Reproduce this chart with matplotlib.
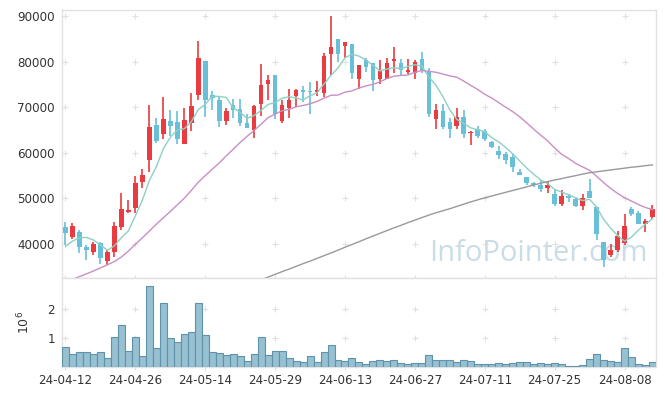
import numpy as np
import pandas as pd
import matplotlib
matplotlib.use("Agg")
import matplotlib.pyplot as plt
from matplotlib.ticker import FuncFormatter

# trading days (KRX holidays removed)
holidays = ["2024-05-01", "2024-05-06", "2024-05-15", "2024-06-06"]
dates = pd.bdate_range("2024-04-12", "2024-08-14", freq="C", holidays=holidays)

opens = [43700, 41600, 42700, 39350, 38300, 40150, 36150, 38300, 43600, 47000,
         47750, 53650, 58500, 66100, 64200, 66950, 66700, 62000, 66400, 72550,
         80150, 72700, 71600, 67050, 70400, 69600, 66450, 65050, 70750, 75150,
         77050, 67050, 69700, 72400, 73550, 73550, 73250, 73050, 81750, 84950,
         83500, 83850, 76200, 80400, 79700, 76200, 76200, 80200, 79600, 77700,
         77500, 80550, 77950, 67400, 69150, 66750, 65750, 67800, 64250, 65150,
         64800, 62300, 60400, 59800, 59100, 55800, 54600, 53400, 52950, 52200,
         50950, 48750, 50600, 49850, 48400, 51600, 48100, 40450, 37450, 38550,
         40150, 47600, 46800, 44450, 45900]
highs = [44800, 44500, 43050, 39800, 40350, 40300, 38550, 44800, 51200, 49600,
         54900, 56400, 70550, 67550, 72150, 69400, 69100, 69750, 73050, 84600,
         80150, 73550, 72300, 69900, 71700, 71700, 68450, 70500, 79400, 77000,
         77050, 71450, 74050, 74000, 74650, 75450, 75750, 81800, 90000, 84950,
         84350, 83850, 79300, 80700, 79700, 80350, 80850, 83200, 80500, 80500,
         80350, 82050, 78500, 70650, 70650, 67700, 69700, 69450, 64800, 65800,
         65150, 62650, 61500, 60250, 59750, 56400, 54750, 53500, 53900, 53650,
         52050, 51900, 50950, 50250, 50900, 54200, 48100, 40450, 39850, 42800,
         46500, 48100, 47250, 45400, 48550]
lows = [39800, 41000, 37950, 36350, 37450, 35600, 35300, 37200, 43050, 46700,
        46850, 52350, 55700, 62200, 63100, 63700, 61850, 61900, 64650, 71600,
        67800, 69400, 65600, 66000, 67500, 65750, 65350, 63250, 68050, 71450,
        67350, 66600, 67550, 70100, 71200, 68500, 72450, 72150, 77050, 80000,
        80700, 76100, 74000, 77800, 73500, 75100, 76100, 77550, 77000, 77200,
        76100, 77400, 67900, 65200, 65150, 63300, 65200, 63150, 61700, 63150,
        62650, 61000, 58650, 57600, 55650, 55000, 52800, 52400, 51350, 51250,
        48400, 48200, 49150, 48100, 47400, 49950, 40900, 34900, 37150, 38300,
        39700, 46000, 44300, 42550, 45350]
closes = [42300, 43950, 39200, 38750, 40000, 36800, 38250, 43950, 47700, 47450,
          53400, 55200, 65650, 62650, 67400, 65950, 63100, 67200, 70250, 80800,
          71650, 71950, 67050, 69150, 69400, 66600, 65450, 70200, 74800, 75950,
          68450, 70400, 71650, 73750, 73400, 73250, 73650, 81250, 83200, 81650,
          84300, 77550, 79250, 78900, 75950, 77950, 79700, 80550, 78100, 78150,
          80000, 78150, 68500, 69400, 65650, 65150, 67800, 64050, 64500, 63700,
          63050, 61150, 59500, 58300, 56800, 55200, 53300, 52800, 52000, 52800,
          48750, 50400, 49950, 48400, 50000, 50000, 42100, 36550, 38700, 41700,
          43950, 46450, 44450, 45050, 47600]
volumes = [686000, 446000, 514000, 514000, 446000, 514000, 309000, 1029000, 1440000, 560000,
           1029000, 377000, 2777000, 651000, 2194000, 994000, 857000, 1131000, 1200000, 2194000,
           1097000, 514000, 480000, 411000, 446000, 377000, 206000, 446000, 1029000, 411000,
           549000, 549000, 309000, 206000, 171000, 377000, 171000, 514000, 754000, 240000,
           206000, 309000, 171000, 103000, 206000, 240000, 206000, 240000, 137000, 103000,
           137000, 137000, 411000, 240000, 240000, 240000, 171000, 240000, 206000, 103000,
           103000, 103000, 137000, 103000, 137000, 171000, 171000, 103000, 137000, 103000,
           137000, 103000, 34000, 34000, 69000, 274000, 446000, 240000, 206000, 171000,
           651000, 343000, 103000, 69000, 171000]

# moving averages: first days need history before the window
ma5_head = [39400, 40600, 41300, 41400]
ma20_head = [31500, 32200, 32800, 33400, 34050, 34700, 35400, 36100, 37100, 38400,
             39900, 41300, 42800, 44300, 45700, 47100, 48550, 50000, 51700]
ma120_start = 26
ma120 = [30900, 31500, 32100, 32700, 33300, 33900, 34450, 35050, 35650, 36200,
         36800, 37400, 38000, 38600, 39250, 39850, 40450, 41100, 41700, 42300,
         42900, 43500, 44050, 44650, 45200, 45750, 46300, 46800, 47250, 47700,
         48200, 48700, 49200, 49650, 50100, 50500, 50900, 51300, 51700, 52100,
         52500, 52900, 53300, 53650, 54000, 54300, 54650, 54950, 55300, 55600,
         55800, 56000, 56200, 56400, 56600, 56800, 56950, 57150, 57300]

df = pd.DataFrame({"open": opens, "high": highs, "low": lows,
                   "close": closes, "volume": volumes}, index=dates[:len(closes)])
x = np.arange(len(df))

ma5 = df["close"].rolling(5).mean().values
ma5[:len(ma5_head)] = ma5_head
ma20 = df["close"].rolling(20).mean().values
ma20[:len(ma20_head)] = ma20_head
ma120_full = np.full(len(df), np.nan)
ma120_full[ma120_start:] = ma120

up_col = "#ea3b40"
down_col = "#68bfd8"
grid_col = "#e0e0e0"
text_col = "#333333"

fig = plt.figure(figsize=(6.65, 3.96), dpi=100)
ax1 = fig.add_axes([0.0932, 0.298, 0.8932, 0.6767])
ax2 = fig.add_axes([0.0932, 0.072, 0.8932, 0.226], sharex=ax1)

# candles
up = df["close"] >= df["open"]
colors = np.where(up, up_col, down_col)
ax1.vlines(x, df["low"], df["high"], colors=colors, linewidth=1.2, zorder=3)
body_bottom = np.minimum(df["open"], df["close"])
body_height = np.maximum((df["close"] - df["open"]).abs(), 250)
ax1.bar(x, body_height, bottom=body_bottom, width=0.66, color=colors, linewidth=0, zorder=4)

ax1.plot(x, ma5, color="#8fd0c5", linewidth=1.0, zorder=5)
ax1.plot(x, ma20, color="#c98fc6", linewidth=1.0, zorder=5)
ax1.plot(x, ma120_full, color="#999999", linewidth=1.0, zorder=5)

ax1.text(0.802, 0.09, "InfoPointer.com", transform=ax1.transAxes, ha="center", va="center",
         fontsize=21, family=["Open Sans", "DejaVu Sans"], color="#cadce6", zorder=1)

# volume
ax2.bar(x, df["volume"], width=1.0, color="#97c0d1", edgecolor="#5e93ab", linewidth=0.8, zorder=3)
ax2.yaxis.set_major_formatter(FuncFormatter(lambda v, p: f"{v / 1e6:g}"))
ax2.set_ylabel(r"$10^6$", color=text_col, fontsize=9)
ax2.yaxis.set_label_coords(-0.05, 0.5)

ax1.set_xlim(-0.5, len(df) - 0.5)
ax1.set_ylim(32500, 91300)
ax1.set_yticks([40000, 50000, 60000, 70000, 80000, 90000])
ax2.set_ylim(0, 3.05e6)
ax2.set_yticks([1e6, 2e6])

tick_idx = x[::10]
ax2.set_xticks(tick_idx)
ax2.set_xticklabels([d.strftime("%y-%m-%d") for d in df.index[tick_idx]])
plt.setp(ax1.get_xticklabels(), visible=False)

for ax in (ax1, ax2):
    for s in ax.spines.values():
        s.set_color("#e2e2e2")
        s.set_linewidth(1.0)
    ax.tick_params(axis="y", length=0, pad=5, labelsize=8.6, labelcolor=text_col)
    ax.tick_params(axis="x", length=4, direction="inout", color=grid_col, pad=3,
                   labelsize=8.6, labelcolor=text_col)
    # small cross marks at the grid intersections
    gx, gy = np.meshgrid(ax.get_xticks(), ax.get_yticks())
    ax.plot(gx.ravel(), gy.ravel(), "+", color=grid_col, markersize=4, markeredgewidth=0.8,
            zorder=0, clip_on=False)

fig.savefig("out.png", dpi=100)
